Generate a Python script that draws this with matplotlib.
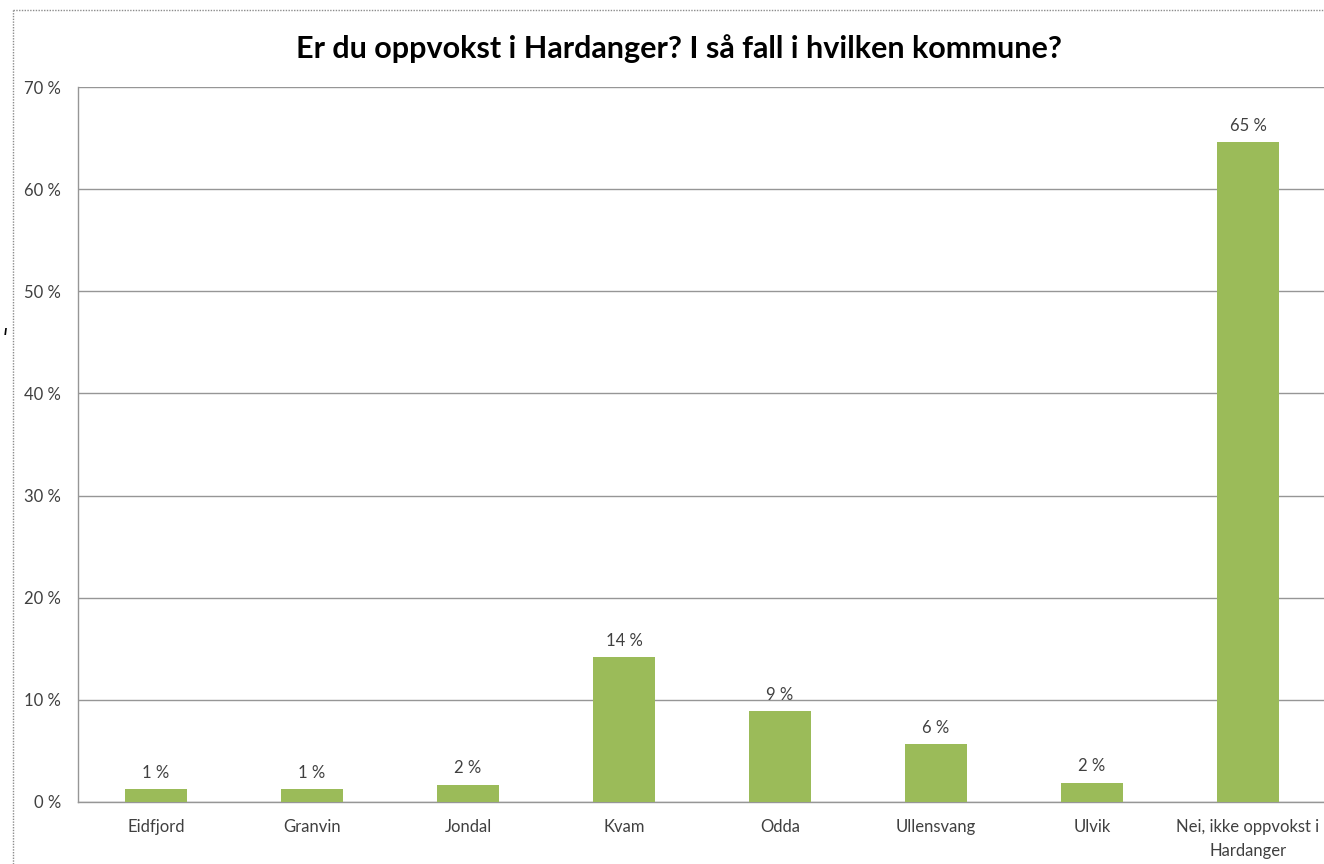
import matplotlib.pyplot as plt
from matplotlib.lines import Line2D

plt.rcParams["font.family"] = ["Lato", "DejaVu Sans"]

categories = ["Eidfjord", "Granvin", "Jondal", "Kvam", "Odda", "Ullensvang", "Ulvik",
              "Nei, ikke oppvokst i\nHardanger"]
shares = [1.3, 1.3, 1.7, 14.2, 8.9, 5.7, 1.9, 64.6]
share_labels = ["1 %", "1 %", "2 %", "14 %", "9 %", "6 %", "2 %", "65 %"]
y_ticks = [0, 10, 20, 30, 40, 50, 60, 70]

W, H = 1324, 864
fig = plt.figure(figsize=(W / 100, H / 100), dpi=100)
ax = fig.add_axes([78 / W, 62 / H, 1248 / W, 715 / H])

x = range(len(categories))
ax.bar(x, shares, width=0.4, color="#9BBB59", zorder=3)
for xi, val, lab in zip(x, shares, share_labels):
    ax.text(xi, val + 0.8, lab, ha="center", va="bottom", fontsize=12, color="#404040")

ax.set_xlim(-0.5, len(categories) - 0.5)
ax.set_ylim(0, 70)
ax.set_yticks(y_ticks)
ax.set_yticklabels([f"{t} %" for t in y_ticks])
ax.set_xticks(list(x))
ax.set_xticklabels(categories, linespacing=1.65)
ax.tick_params(axis="y", length=0, pad=12, labelsize=12, labelcolor="#404040")
ax.tick_params(axis="x", length=0, pad=12, labelsize=12, labelcolor="#404040")
ax.grid(True, axis="y", color="#969696", linewidth=1.0, zorder=0)
for side in ("top", "right"):
    ax.spines[side].set_visible(False)
for side in ("left", "bottom"):
    ax.spines[side].set_color("#969696")
    ax.spines[side].set_linewidth(1.0)

fig.text(679 / W, 1 - 49 / H, "Er du oppvokst i Hardanger? I så fall i hvilken kommune?",
         ha="center", va="center", fontsize=22, fontweight="bold", color="black")

# dotted frame of the original chart area (only left and top visible)
fig.add_artist(Line2D([13 / W, 13 / W], [0, 1 - 10 / H], transform=fig.transFigure,
                      color="#8c8c8c", linewidth=1.0, linestyle=(0, (1, 1))))
fig.add_artist(Line2D([13 / W, 1], [1 - 10 / H, 1 - 10 / H], transform=fig.transFigure,
                      color="#8c8c8c", linewidth=1.0, linestyle=(0, (1, 1))))
fig.text(4 / W, 1 - 331 / H, "ı", fontsize=10, fontweight="bold", style="italic",
         ha="left", va="center", color="black")

fig.savefig("out.png", dpi=100)
